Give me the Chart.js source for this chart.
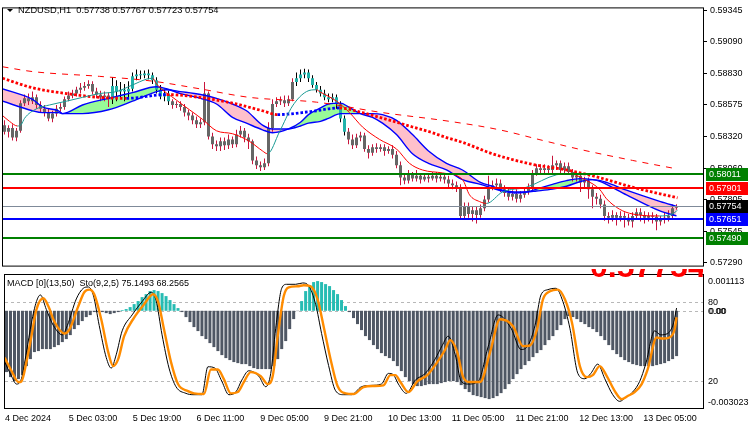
<!DOCTYPE html>
<html>
<head>
<meta charset="utf-8">
<script src="https://cdn.jsdelivr.net/npm/chart.js@4.4.1/dist/chart.umd.min.js"></script>
<style>
  html, body { margin: 0; padding: 0; background: #fff; }
  #wrap { position: relative; width: 750px; height: 430px; overflow: hidden; }
  #main { position: absolute; left: 0; top: 0; }
  #sub { position: absolute; left: 0; top: 274px; }
  /* large price label, mostly hidden behind the indicator window */
  #bigPrice { position: absolute; left: 0; top: 269px; width: 703px; height: 9px; overflow: hidden; }
  #bigPrice span { position: absolute; left: 590px; top: -19px; font: bold 32px "Liberation Sans", Arial, sans-serif;
    line-height: 32px; color: #ff0000; white-space: nowrap; }
</style>
</head>
<body>
<div id="wrap">
  <canvas id="main" width="750" height="274"></canvas>
  <canvas id="sub" width="750" height="156"></canvas>
  <div id="bigPrice"><span>0.57754</span></div>
</div>
<script>
// === Data (prices in points, 1 point = 0.00001) ===
const opens = [58411,58357,58388,58310,58365,58590,58629,58606,58637,58575,
  58544,58513,58466,58505,58544,58559,58621,58653,58668,58699,
  58715,58730,58746,58684,58660,58637,58653,58621,58730,58684,
  58699,58684,58707,58808,58824,58816,58832,58816,58777,58699,
  58645,58668,58606,58575,58583,58559,58513,58489,58450,58419,
  58435,58668,58318,58256,58240,58279,58248,58295,58256,58334,
  58365,58310,58279,58124,58085,58069,58100,58388,58583,58606,
  58614,58590,58621,58762,58793,58824,58839,58793,58738,58699,
  58668,58637,58621,58637,58583,58466,58357,58295,58248,58310,
  58326,58217,58186,58232,58217,58232,58201,58217,58170,58085,
  57984,57960,58007,57976,57999,57968,57991,57976,57999,57976,
  57991,57968,57937,57921,57906,57672,57750,57688,57719,57680,
  57735,57805,57906,57921,57937,57890,57859,57828,57851,57812,
  57844,57867,57906,58022,58061,58046,58061,58046,58085,58100,
  58046,58077,58030,57984,57999,57945,57960,57890,57828,57812,
  57766,57672,57657,57680,57657,57672,57657,57626,57672,57703,
  57680,57657,57672,57665,57626,57641,57657,57672,57738];
const closes = [58357,58388,58310,58365,58590,58629,58606,58637,58575,58544,
  58513,58466,58505,58544,58559,58621,58653,58668,58699,58715,
  58730,58746,58684,58660,58637,58653,58621,58730,58684,58699,
  58684,58707,58808,58824,58816,58832,58816,58777,58699,58645,
  58668,58606,58575,58583,58559,58513,58489,58450,58419,58435,
  58668,58318,58256,58240,58279,58248,58295,58256,58334,58365,
  58310,58279,58124,58085,58069,58100,58388,58583,58606,58614,
  58590,58621,58762,58793,58824,58839,58793,58738,58699,58668,
  58637,58621,58637,58583,58466,58357,58295,58248,58310,58326,
  58217,58186,58232,58217,58232,58201,58217,58170,58085,57984,
  57960,58007,57976,57999,57968,57991,57976,57999,57976,57991,
  57968,57937,57921,57906,57672,57750,57688,57719,57680,57735,
  57805,57906,57921,57937,57890,57859,57828,57851,57812,57844,
  57867,57906,58022,58061,58046,58061,58046,58085,58100,58046,
  58077,58030,57984,57999,57945,57960,57890,57828,57812,57766,
  57672,57657,57680,57657,57672,57657,57626,57672,57703,57680,
  57657,57672,57665,57626,57641,57657,57672,57735,57754];
const highs = [58450,58411,58419,58388,58614,58660,58668,58684,58660,58606,
  58575,58544,58528,58575,58590,58645,58684,58699,58723,58754,
  58762,58777,58769,58715,58691,58684,58676,58800,58777,58762,
  58746,58769,58839,58863,58855,58855,58863,58839,58800,58738,
  58699,58691,58621,58606,58606,58583,58536,58513,58481,58466,
  58762,58684,58349,58287,58310,58310,58334,58318,58373,58404,
  58388,58341,58295,58155,58116,58139,58435,58621,58637,58645,
  58653,58653,58793,58839,58863,58870,58863,58816,58762,58730,
  58699,58668,58668,58660,58606,58489,58388,58334,58341,58357,
  58349,58248,58256,58264,58256,58256,58240,58248,58201,58116,
  58022,58046,58030,58046,58022,58022,58022,58030,58030,58022,
  58015,57999,57968,57952,57929,57781,57781,57750,57750,57766,
  57836,57999,57960,57976,57968,57921,57906,57882,57890,57875,
  57906,57937,58046,58092,58092,58092,58085,58162,58124,58124,
  58108,58108,58054,58030,58030,57991,57984,57921,57859,57844,
  57797,57703,57719,57703,57711,57703,57688,57703,57735,57735,
  57711,57703,57703,57688,57672,57696,57719,57766,57767];
const lows = [58334,58310,58287,58279,58349,58567,58575,58583,58544,58513,
  58481,58442,58435,58481,58520,58536,58606,58629,58645,58668,
  58691,58707,58660,58629,58606,58606,58559,58583,58606,58629,
  58606,58637,58684,58777,58785,58793,58785,58746,58668,58621,
  58606,58575,58544,58551,58528,58481,58450,58419,58388,58388,
  58411,58295,58217,58201,58201,58209,58217,58225,58232,58310,
  58271,58217,58092,58054,58038,58046,58077,58357,58559,58575,
  58559,58567,58606,58730,58762,58793,58762,58715,58676,58645,
  58614,58598,58598,58544,58435,58326,58256,58217,58225,58279,
  58194,58139,58162,58186,58194,58162,58178,58139,58061,57921,
  57929,57937,57952,57952,57937,57952,57945,57960,57945,57952,
  57937,57906,57890,57867,57649,57641,57657,57626,57610,57657,
  57711,57781,57882,57890,57867,57828,57797,57797,57781,57781,
  57820,57844,57882,57999,58015,58015,58015,58022,58046,58015,
  58022,58007,57952,57952,57867,57906,57812,57735,57766,57735,
  57633,57610,57626,57595,57626,57579,57595,57579,57641,57626,
  57610,57626,57610,57556,57595,57610,57626,57641,57723];
// bars drawn in the highlighted (teal) colour
const tealBars = [27,28,29,30,31,32,33,34,35,36,37,38,39,40,41,
  73,74,75,76,77,78,79,80,81,82,83,84,85];

// fast MA (teal rising / red falling)
const thinIdx = [-0.5,1.25,3.25,4.25,5,8,11.25,15.5,19.5,23.75,28,32,35.5,37,38,43,46.25,49.5,53,57,
  61.25,64.5,65.75,68.75,72,75.5,78,78.75,83,86.25,89.5,93.75,98,101.25,104.5,109.5,114.5,116.25,118.75,120.5,
  124.5,130.5,138,141.25,145.5,148.75,150.5,153.75,157,163.75,167,168.25];
const thinVal = [58489,58442,58404,58419,58466,58544,58575,58606,58637,58668,58684,58738,58785,58793,58746,58614,58536,58458,58365,58341,
  58279,58201,58178,58357,58567,58684,58699,58684,58606,58513,58396,58295,58217,58100,58046,58022,57968,57844,57789,57774,
  57867,57906,58007,58015,57960,57890,57812,57727,57688,57672,57688,57719];

// dotted MA (blue rising / red falling)
const dotIdx = [-0.5,7,15.5,23.75,30.5,40.5,48.75,57,64.5,68.25,76.25,83.75,89.5,93.75,98,102,106.25,110.5,114.5,122,132,140.5,148.75,157,168.25];
const dotVal = [58793,58715,58668,58637,58629,58660,58637,58590,58528,58497,58520,58551,58513,58474,58435,58396,58357,58310,58271,58178,58092,58046,57984,57906,57820];

// dashed slow MA
const dashIdx = [-0.5,7,23.75,37,48.75,61.25,78,94.5,111.25,123.75,134.5,144.5,157,168.25];
const dashVal = [58886,58847,58808,58769,58707,58637,58598,58513,58442,58373,58287,58209,58124,58054];

// MA cloud
const bandIdx = [-0.5,7,9.5,13.5,14.5,19.5,26,32,38,40.5,44,49,53,57,60.5,64.5,67,71,74,76,79,81,84,86,89,92,94.5,98,
  102,106,110.5,114.5,119,122,124.5,127.5,130.5,133,137,140.5,144,147,149,150.5,155.5,164,168];
const fastVal = [58606,58528,58513,58513,58505,58575,58629,58676,58723,58707,58668,58629,58583,58474,58427,58373,58349,58380,
  58435,58497,58551,58583,58590,58559,58505,58474,58427,58334,58178,58100,58046,57968,57929,57898,57875,57859,57867,57890,
  57929,57960,57976,57968,57952,57929,57844,57711,57672];
const slowVal = [58707,58621,58559,58528,58505,58505,58536,58606,58684,58699,58684,58660,58629,58583,58528,58411,58380,58380,
  58404,58427,58442,58466,58505,58505,58505,58505,58497,58450,58334,58201,58100,58046,57945,57914,57882,57867,57867,57875,
  57890,57914,57952,57968,57960,57945,57882,57789,57750];

// horizontal levels
const levelVals = [58011, 57901, 57754, 57651, 57490];
const levelColors = ['#008000', '#ff0000', '#7f8a99', '#0000ff', '#008000'];
const levelBoxes = ['#008000', '#ff0000', '#000000', '#0000ff', '#008000'];
const priceTicks = [59345, 59090, 58830, 58575, 58320, 58060, 57805, 57545, 57290];

// MACD histogram
const macd = [-0.001906,-0.002062,-0.002186,-0.002124,-0.002000,-0.001720,-0.001502,-0.001284,-0.001253,-0.001191,
  -0.001191,-0.001191,-0.001129,-0.001067,-0.000973,-0.000880,-0.000756,-0.000569,-0.000445,-0.000320,
  -0.000196,-0.000134,-0.000040,-0.000040,-0.000040,-0.000072,-0.000103,-0.000072,-0.000040,0.000022,
  0.000053,0.000115,0.000208,0.000302,0.000426,0.000519,0.000613,0.000644,0.000613,0.000550,
  0.000457,0.000333,0.000208,0.000084,-0.000040,-0.000196,-0.000351,-0.000507,-0.000631,-0.000787,
  -0.000880,-0.001005,-0.001129,-0.001253,-0.001378,-0.001471,-0.001533,-0.001595,-0.001627,-0.001658,
  -0.001658,-0.001720,-0.001782,-0.001813,-0.001813,-0.001813,-0.001813,-0.001720,-0.001502,-0.001191,
  -0.000942,-0.000569,-0.000258,-0.000009,0.000302,0.000613,0.000799,0.000893,0.000924,0.000893,
  0.000830,0.000768,0.000644,0.000519,0.000333,0.000146,-0.000040,-0.000227,-0.000414,-0.000600,
  -0.000787,-0.000911,-0.001067,-0.001191,-0.001316,-0.001409,-0.001471,-0.001564,-0.001720,-0.001875,
  -0.002062,-0.002186,-0.002280,-0.002342,-0.002342,-0.002311,-0.002280,-0.002280,-0.002280,-0.002249,
  -0.002217,-0.002186,-0.002186,-0.002217,-0.002311,-0.002435,-0.002528,-0.002622,-0.002653,-0.002684,
  -0.002715,-0.002746,-0.002715,-0.002653,-0.002560,-0.002435,-0.002280,-0.002124,-0.001969,-0.001813,
  -0.001689,-0.001564,-0.001440,-0.001316,-0.001222,-0.001067,-0.000911,-0.000787,-0.000600,-0.000445,
  -0.000258,-0.000165,-0.000196,-0.000258,-0.000351,-0.000414,-0.000507,-0.000569,-0.000662,-0.000787,
  -0.000911,-0.001067,-0.001222,-0.001347,-0.001440,-0.001533,-0.001595,-0.001658,-0.001689,-0.001720,
  -0.001720,-0.001720,-0.001720,-0.001689,-0.001658,-0.001627,-0.001564,-0.001502,-0.001409];

// Stochastic signal (orange) and main (black)
const sigIdx = [-0.5,1.25,3,3.75,5,6.25,7.5,9.25,10.5,12,14.5,15.75,18,19.5,20.75,22,23.75,25.5,26.75,28,
  29.5,32,34.5,36.75,38,39.5,41.25,43,45.5,47,49.5,51.25,53,54.5,56.25,58,59.5,61.25,63.75,65.5,
  66.75,68,69.5,70.75,73,74.5,76.25,78,79.5,81.25,83,85,87,89.5,92,94.5,96.25,97.5,98.75,100.75,
  103,105.5,108,110,111.25,113,114.5,116.25,118.75,121.25,123.75,127,129.5,131.25,133,134.5,136.25,138.25,140,141.75,
  143.75,145.5,147,148.75,150.5,152.5,154.25,155.75,157.5,159.25,160.75,163,164.5,166.25,167.5,168];
const sigVal = [38,28,19.5,20,34.5,54,74,82.5,76.5,65,56,59,76.5,87,89,85.5,66.7,42,31.5,36.7,
  54,68,78,85.5,80,59,34.5,18,12.7,11,10.5,29,29,21.7,11,12,19.5,27,24,18,
  24,54,84,90.7,91.5,92.3,91.5,81.7,61.5,36.7,16.5,11,10.5,15.7,16.5,17,24.7,24.7,19.5,12,
  20,24.7,34.5,44,51,42,23.2,19.5,19.5,42,66.7,61.5,46.5,47,59,81.7,87.7,89,81.7,64.5,
  31.5,23.2,24.7,31.5,24,12.7,6.7,9,12,18,29,53,52.2,53,59,68.26];
const mainIdx = [-0.5,1.25,2.5,3.75,5,6.25,7.5,8.5,10,11.75,14,15.25,17.5,19.25,20.5,21.75,23.25,25,26.25,27.5,
  29,31.5,34,36.25,37.5,39,40.75,42.5,45,46.75,49,50.5,52.25,54,55.75,57.5,59,60.75,63.25,65,
  66.25,67.5,69,70.25,72.5,74.25,75.75,77.5,79,80.75,82.5,84.5,86.5,89,91.5,94,95.75,97,98.25,100.25,
  102.5,105,107.5,109.25,110.75,112.5,114,115.75,118.25,120.75,123.25,126.5,129,130.75,132.5,134,135.75,137.75,139.5,141.25,
  143.25,145,146.5,148.25,150,152,153.75,155.25,157,158.75,160.25,162.5,164,165.75,167.25,168];
const mainVal = [35,24,18,22,42,64,80,85,74,62,55,62,82,90,91,85,62,38,30,40,
  58,70,80,87,81,55,30,16,11,10,10,31,30,20,10,12,21,28,24,16,
  26,60,90,93,93,94,92,78,56,32,13,10,10,16,17,18,26,25,18,11,
  21,26,37,47,54,40,20,18,20,46,70,60,44,47,62,85,89,90,80,60,
  26,22,26,33,22,10,5,8,12,20,33,58,55,56,64,75.15];

const timeLabels = ["4 Dec 2024","5 Dec 03:00","5 Dec 19:00","6 Dec 11:00","9 Dec 05:00","9 Dec 21:00",
  "10 Dec 13:00","11 Dec 05:00","11 Dec 21:00","12 Dec 13:00","13 Dec 05:00"];
const timeTicks = [-0.375,15.625,31.625,47.625,63.625,79.625,95.625,111.625,127.625,143.625,159.625];

// === Styles ===
const FONT = '"Liberation Sans", Arial, sans-serif';
const TEAL = '#20b2aa';
const GREY = '#666666';
const WICK = '#c8143c';
Chart.defaults.font.family = FONT;
Chart.defaults.font.size = 9;
Chart.defaults.color = '#000';

const pts = (xs, ys) => xs.map((x, i) => ({ x, y: ys[i] }));
const xAxis = (show) => ({
  type: 'linear', min: -0.375, max: 174.625, bounds: 'data', offset: false, display: show,
  grid: { display: false, drawTicks: false }, border: { display: false },
});

// === Main chart ===
const mainDeco = {
  id: 'mainDeco',
  afterDatasetsDraw(chart) {
    const { ctx, chartArea: a, scales: { y } } = chart;
    ctx.save();
    levelVals.forEach((v, k) => {
      const w = k === 2 ? 1 : 2;
      const py = Math.round(y.getPixelForValue(v)) + (w === 1 ? 0.5 : 0);
      ctx.strokeStyle = levelColors[k];
      ctx.lineWidth = w;
      ctx.beginPath(); ctx.moveTo(a.left, py); ctx.lineTo(a.right, py); ctx.stroke();
    });
    ctx.restore();
  },
  afterDraw(chart) {
    const { ctx, chartArea: a, scales: { y } } = chart;
    ctx.save();
    ctx.strokeStyle = '#000'; ctx.lineWidth = 1;
    ctx.strokeRect(a.left - 0.5, a.top - 0.5, a.right - a.left + 1, a.bottom - a.top + 1);
    // title
    ctx.fillStyle = '#000';
    ctx.beginPath(); ctx.moveTo(7, 9); ctx.lineTo(13, 9); ctx.lineTo(10, 12); ctx.closePath(); ctx.fill();
    ctx.font = '9.3px ' + FONT; ctx.textBaseline = 'middle';
    ctx.fillText('NZDUSD,H1  0.57738 0.57767 0.57723 0.57754', 18, 10.5);
    // price boxes
    ctx.font = '9px ' + FONT;
    levelVals.forEach((v, k) => {
      const py = Math.round(y.getPixelForValue(v));
      ctx.fillStyle = levelBoxes[k];
      ctx.fillRect(706, py - 6, 42, 13);
      ctx.fillStyle = '#fff';
      ctx.fillText((v / 100000).toFixed(5), 709, py + 0.5);
    });
    ctx.restore();
  }
};

new Chart(document.getElementById('main'), {
  type: 'bar',
  data: {
    datasets: [
      { type: 'line', data: pts(thinIdx, thinVal), borderWidth: 1, pointRadius: 0, order: 1,
        cubicInterpolationMode: 'monotone', borderColor: WICK,
        segment: { borderColor: c => c.p1.parsed.y >= c.p0.parsed.y ? '#199a94' : '#ff0000' } },
      { type: 'line', data: pts(dotIdx, dotVal), borderWidth: 2.8, borderDash: [2.6, 2], pointRadius: 0, order: 2,
        cubicInterpolationMode: 'monotone', borderColor: '#ff0000',
        segment: { borderColor: c => c.p1.parsed.y > c.p0.parsed.y ? '#0000ff' : '#ff0000' } },
      { type: 'line', data: pts(dashIdx, dashVal), borderWidth: 1, borderDash: [6, 6], pointRadius: 0, order: 3,
        cubicInterpolationMode: 'monotone', borderColor: '#ff0000' },
      { type: 'line', data: pts(bandIdx, fastVal), borderWidth: 1.4, pointRadius: 0, order: 4, borderColor: '#0000ff',
        cubicInterpolationMode: 'monotone',
        fill: { target: '+1', above: '#98fb98', below: '#ffc0cb' } },
      { type: 'line', data: pts(bandIdx, slowVal), borderWidth: 1.4, pointRadius: 0, order: 4, borderColor: '#0000ff',
        cubicInterpolationMode: 'monotone' },
      { type: 'bar', data: opens.map((o, i) => ({ x: i, y: [o, closes[i]] })), order: 5,
        barThickness: 3, grouped: false, inflateAmount: 0, borderWidth: 0, minBarLength: 1,
        backgroundColor: c => tealBars.includes(c.dataIndex) ? TEAL : GREY },
      { type: 'bar', data: lows.map((l, i) => ({ x: i, y: [l, highs[i]] })), order: 6,
        barThickness: 1, grouped: false, inflateAmount: 0, borderWidth: 0,
        backgroundColor: c => tealBars.includes(c.dataIndex) ? '#000' : WICK },
    ]
  },
  options: {
    responsive: false, animation: false, events: [], devicePixelRatio: 1,
    layout: { padding: { left: 3, right: 0, top: 3, bottom: 2 } },
    plugins: { legend: { display: false }, tooltip: { enabled: false }, filler: { drawTime: 'beforeDatasetsDraw' } },
    scales: {
      x: xAxis(false),
      y: {
        type: 'linear', position: 'right', min: 57268, max: 59361, bounds: 'data',
        grid: { drawOnChartArea: false, drawTicks: true, tickLength: 4, color: '#000' },
        border: { display: false },
        ticks: { autoSkip: false, padding: 3, color: '#000', font: { size: 9 },
          callback: v => (v / 100000).toFixed(5) },
        afterBuildTicks: s => { s.ticks = priceTicks.map(v => ({ value: v })); },
        afterFit: s => { s.width = 47; }
      }
    }
  },
  plugins: [mainDeco]
});

// === Indicator chart ===
const subDeco = {
  id: 'subDeco',
  beforeDatasetsDraw(chart) {
    const { ctx, chartArea: a, scales: { ym, ys } } = chart;
    ctx.save();
    ctx.strokeStyle = '#b8b8b8'; ctx.lineWidth = 1; ctx.setLineDash([3, 3]);
    [ys.getPixelForValue(80), ys.getPixelForValue(20), ym.getPixelForValue(0)].forEach(py => {
      py = Math.round(py) + 0.5;
      ctx.beginPath(); ctx.moveTo(a.left, py); ctx.lineTo(a.right, py); ctx.stroke();
    });
    ctx.restore();
  },
  afterDraw(chart) {
    const { ctx, chartArea: a, scales: { ym, ys } } = chart;
    ctx.save();
    ctx.strokeStyle = '#000'; ctx.lineWidth = 1;
    ctx.strokeRect(a.left - 0.5, a.top - 0.5, a.right - a.left + 1, a.bottom - a.top + 1);
    ctx.fillStyle = '#000'; ctx.font = '9px ' + FONT; ctx.textBaseline = 'middle';
    ctx.fillText('MACD [0](13,50)  Sto(9,2,5) 75.1493 68.2565', 7, 9.5);
    const x = a.right + 5;
    ctx.fillText('0.001113', x, a.top + 7);
    ctx.fillText('80', x, Math.round(ys.getPixelForValue(80)) + 0.5);
    ctx.fillText('0.00', x, Math.round(ym.getPixelForValue(0)) + 0.5);
    ctx.fillText('0.00', x + 1, Math.round(ym.getPixelForValue(0)) + 1);
    ctx.fillText('20', x, Math.round(ys.getPixelForValue(20)) + 0.5);
    ctx.fillText('-0.003023', x, a.bottom - 5);
    ctx.restore();
  }
};

new Chart(document.getElementById('sub'), {
  type: 'bar',
  data: {
    datasets: [
      { type: 'line', data: pts(sigIdx, sigVal), yAxisID: 'ys', borderColor: '#ff8c00', borderWidth: 2.4,
        pointRadius: 0, order: 0, cubicInterpolationMode: 'monotone' },
      { type: 'line', data: pts(mainIdx, mainVal), yAxisID: 'ys', borderColor: '#000', borderWidth: 1,
        pointRadius: 0, order: 1, cubicInterpolationMode: 'monotone' },
      { type: 'bar', data: macd.map((v, i) => ({ x: i, y: v })), yAxisID: 'ym', order: 2,
        barThickness: 3, grouped: false, inflateAmount: 0, borderWidth: 0,
        backgroundColor: c => c.raw && c.raw.y > 0 ? '#26bcb3' : '#4f5764' },
    ]
  },
  options: {
    responsive: false, animation: false, events: [], devicePixelRatio: 1,
    layout: { padding: { left: 3, right: 0, top: 1, bottom: 0 } },
    plugins: { legend: { display: false }, tooltip: { enabled: false } },
    scales: {
      x: Object.assign(xAxis(true), {
        ticks: { autoSkip: false, maxRotation: 0, align: 'start', padding: 5, color: '#000', font: { size: 9 },
          callback: (v, i) => timeLabels[i] },
        afterBuildTicks: s => { s.ticks = timeTicks.map(v => ({ value: v })); },
        afterFit: s => { s.height = 22; }
      }),
      ym: {
        type: 'linear', position: 'right', min: -0.003023, max: 0.001113, bounds: 'data',
        grid: { display: false }, border: { display: false }, ticks: { display: false },
        afterFit: s => { s.width = 47; }
      },
      ys: { type: 'linear', position: 'right', min: 0, max: 100, display: false }
    }
  },
  plugins: [subDeco]
});
</script>
</body>
</html>
